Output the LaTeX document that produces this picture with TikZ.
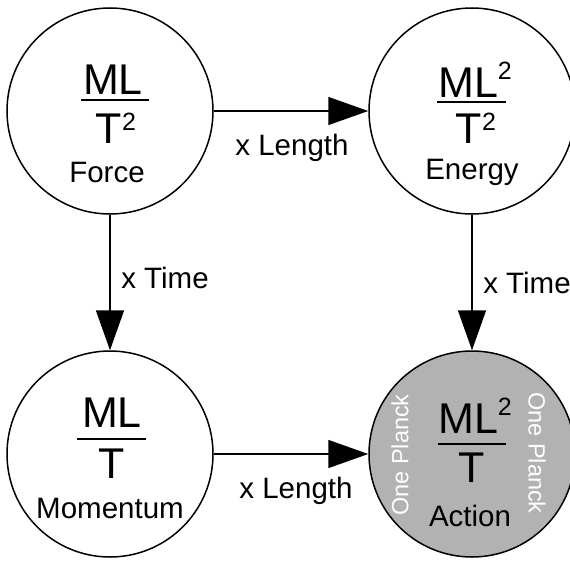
\documentclass[tikz,border=0pt]{standalone}
\usepackage{fontspec}
\setmainfont{Liberation Sans}
\usetikzlibrary{arrows.meta}
\newcommand\mysup[1]{\raisebox{#1}{\fontsize{25}{25}\selectfont 2}}
\begin{document}
\begin{tikzpicture}[x=1pt,y=-1pt,
  qty/.style={circle,draw,line width=1.5pt,minimum size=206pt,inner sep=0pt},
  big/.style={font=\fontsize{43}{43}\selectfont,inner sep=0pt},
  lbl/.style={font=\fontsize{29.5}{29.5}\selectfont,inner sep=0pt},
  planck/.style={font=\fontsize{23.5}{23.5}\selectfont,inner sep=0pt,text=white},
  conn/.style={line width=1.5pt,-{Triangle[length=40pt,width=28pt]}},
  fbar/.style={line width=2pt}]
\useasboundingbox (0,0) rectangle (570,562);
% circles
\node[qty] (force) at (110,111) {};
\node[qty] (energy) at (472,111) {};
\node[qty] (momentum) at (110,454) {};
\node[qty,fill=gray!60] (action) at (472,454) {};
% connectors
\draw[conn] (force) -- (energy);
\draw[conn] (force) -- (momentum);
\draw[conn] (energy) -- (action);
\draw[conn] (momentum) -- (action);
% connector labels
\node[lbl] (l1) at (292,148) {x Length};
\node[lbl] (l2) at (165,278) {x Time};
\node[lbl] (l3) at (527,283) {x Time};
\node[lbl] (l4) at (296,491) {x Length};
% Force
\node[big] (fn) at (113,80) {ML};
\draw[fbar] (81,100) -- (149,100);
\node[big] (fd) at (116,128) {T\mysup{13pt}};
\node[lbl] (fl) at (107,172) {Force};
% Energy
\node[big] (en) at (475,80) {ML\mysup{18pt}};
\draw[fbar] (437,102) -- (506,102);
\node[big] (ed) at (476,128) {T\mysup{13pt}};
\node[lbl] (el) at (472,172) {Energy};
% Momentum
\node[big] (mn) at (112,413) {ML};
\draw[fbar] (77,439) -- (146,439);
\node[big] (md) at (112,464) {T};
\node[lbl] (ml) at (110,508) {Momentum};
% Action
\node[big] (an) at (475,416) {ML\mysup{18pt}};
\draw[fbar] (438,444) -- (506,444);
\node[big] (ad) at (472,468) {T};
\node[lbl] (al) at (470,516) {Action};
\node[planck,rotate=90] (p1) at (400,455) {One Planck};
\node[planck,rotate=-90] (p2) at (537,453) {One Planck};
\end{tikzpicture}
\end{document}
